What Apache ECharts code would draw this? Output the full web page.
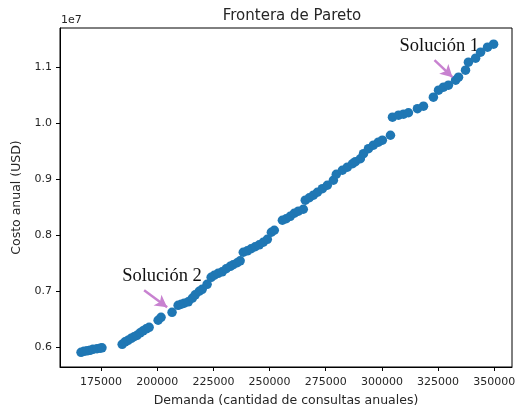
<!DOCTYPE html>
<html>
<head>
<meta charset="utf-8">
<title>Frontera de Pareto</title>
<script src="https://cdn.jsdelivr.net/npm/echarts@6/dist/echarts.min.js"></script>
<style>
  html, body { margin: 0; padding: 0; background: #fff; }
  #main { width: 515px; height: 409px; }
</style>
</head>
<body>
<div id="main"></div>
<script>
// demanda (consultas anuales)
const demanda = [
  166100, 167400, 168800, 170100, 171400, 173200, 174600, 175400,
  184400, 185700, 187000, 188400, 189700, 191000, 192400, 193700, 195100, 196400,
  200400, 201700, 206600,
  209300, 210700, 212000, 213800, 215600, 216900, 218700, 220000, 222200, 224000, 225400, 227100,
  228900, 230700, 232500, 233800, 235600, 236900,
  238300, 240100, 241800, 243600, 245400, 247200, 249000, 250800, 252100,
  255700, 257400, 259200, 261000, 262800, 265000,
  265900, 267700, 269500, 271300, 273500, 275700, 278400, 279700, 282400, 284600,
  286900, 288200, 290400, 291800, 294000, 296200, 298400, 300200, 303800,
  304700, 307400, 309600, 311800, 315800, 318500,
  322900, 325200, 327400, 329600, 332800, 334100, 337200, 338500, 341700, 343900, 347000, 349700
];
// costo anual (USD)
const costo = [
  5916000, 5934000, 5943000, 5952000, 5970000, 5979000, 5988000, 5996000,
  6059000, 6103000, 6130000, 6166000, 6193000, 6219000, 6264000, 6299000, 6335000, 6362000,
  6487000, 6540000, 6629000,
  6754000, 6772000, 6790000, 6816000, 6879000, 6941000, 7004000, 7039000, 7128000, 7253000, 7289000, 7324000,
  7351000, 7405000, 7449000, 7476000, 7512000, 7547000,
  7699000, 7725000, 7761000, 7797000, 7832000, 7877000, 7930000, 8055000, 8091000,
  8269000, 8296000, 8340000, 8394000, 8430000, 8465000,
  8626000, 8670000, 8715000, 8768000, 8831000, 8893000, 8982000, 9089000, 9160000, 9214000,
  9276000, 9312000, 9365000, 9455000, 9544000, 9606000, 9660000, 9695000, 9784000,
  10105000, 10141000, 10159000, 10185000, 10257000, 10301000,
  10462000, 10586000, 10640000, 10676000, 10765000, 10818000, 10943000, 11086000, 11157000, 11264000, 11353000, 11406000
];
const xTicks = [175000, 200000, 225000, 250000, 275000, 300000, 325000, 350000];
const yTicks = [6000000, 7000000, 8000000, 9000000, 10000000, 11000000];

// anotaciones: texto y flecha (inicio -> punta)
const notas = [
  { texto: 'Solución 1', pos: [307800, 11201000], desde: [323400, 11121000], hasta: [331400, 10818000] },
  { texto: 'Solución 2', pos: [184400, 7111000], desde: [194160, 7021000], hasta: [204410, 6718000] }
];

const txt = '#262626';
const font = 'DejaVu Sans';

const chart = echarts.init(document.getElementById('main'));

const option = {
  animation: false,
  title: {
    text: 'Frontera de Pareto',
    left: 287,
    top: 4,
    textAlign: 'center',
    textStyle: { fontFamily: font, fontSize: 15, fontWeight: 'normal', color: txt }
  },
  grid: {
    left: 60, right: 3, top: 28, bottom: 42,
    outerBoundsMode: 'none',
    show: true, borderColor: '#000', borderWidth: 1
  },
  xAxis: {
    type: 'value',
    min: 156730,
    max: 357890,
    name: 'Demanda (cantidad de consultas anuales)',
    nameLocation: 'middle',
    nameGap: 27,
    nameTextStyle: { fontFamily: font, fontSize: 12.5, color: txt },
    axisLine: { show: true, lineStyle: { color: '#000', width: 1 } },
    axisTick: { show: true, inside: false, length: 4, customValues: xTicks, lineStyle: { color: '#000' } },
    axisLabel: {
      customValues: xTicks, fontFamily: font, fontSize: 11, color: txt, margin: 10,
      formatter: v => String(v)
    },
    splitLine: { show: false }
  },
  yAxis: {
    type: 'value',
    min: 5654000,
    max: 11695000,
    name: 'Costo anual (USD)',
    nameLocation: 'middle',
    nameGap: 25,
    nameTextStyle: { fontFamily: font, fontSize: 12.5, color: txt },
    axisLine: { show: true, lineStyle: { color: '#000', width: 1 } },
    axisTick: { show: true, inside: false, length: 4, customValues: yTicks, lineStyle: { color: '#000' } },
    axisLabel: {
      customValues: yTicks, fontFamily: font, fontSize: 11, color: txt, margin: 8,
      formatter: v => (v / 1e7).toFixed(1)
    },
    splitLine: { show: false }
  },
  series: [
    {
      type: 'scatter',
      data: demanda.map((d, i) => [d, costo[i]]),
      symbolSize: 9.5,
      itemStyle: { color: '#1f77b4', opacity: 1 },
      markLine: {
        silent: true,
        symbol: ['none', 'arrow'],
        symbolSize: [10, 12],
        label: { show: false },
        lineStyle: { color: '#c882d0', width: 2.5, type: 'solid' },
        data: notas.map(n => [{ coord: n.desde }, { coord: n.hasta }])
      }
    }
  ]
};

chart.setOption(option);

// textos de las anotaciones y el multiplicador del eje y
const graficos = notas.map(n => {
  const p = chart.convertToPixel({ xAxisIndex: 0, yAxisIndex: 0 }, n.pos);
  return {
    type: 'text',
    x: p[0], y: p[1],
    style: {
      text: n.texto,
      font: '18.5px "Liberation Serif"',
      fill: '#111',
      textAlign: 'left',
      textVerticalAlign: 'bottom'
    }
  };
});
const esquina = chart.convertToPixel({ xAxisIndex: 0, yAxisIndex: 0 }, [156730, 11695000]);
graficos.push({
  type: 'text',
  x: esquina[0] + 1, y: esquina[1] - 2,
  style: { text: '1e7', font: '11px "DejaVu Sans"', fill: txt, textAlign: 'left', textVerticalAlign: 'bottom' }
});
chart.setOption({ graphic: graficos });
</script>
</body>
</html>
